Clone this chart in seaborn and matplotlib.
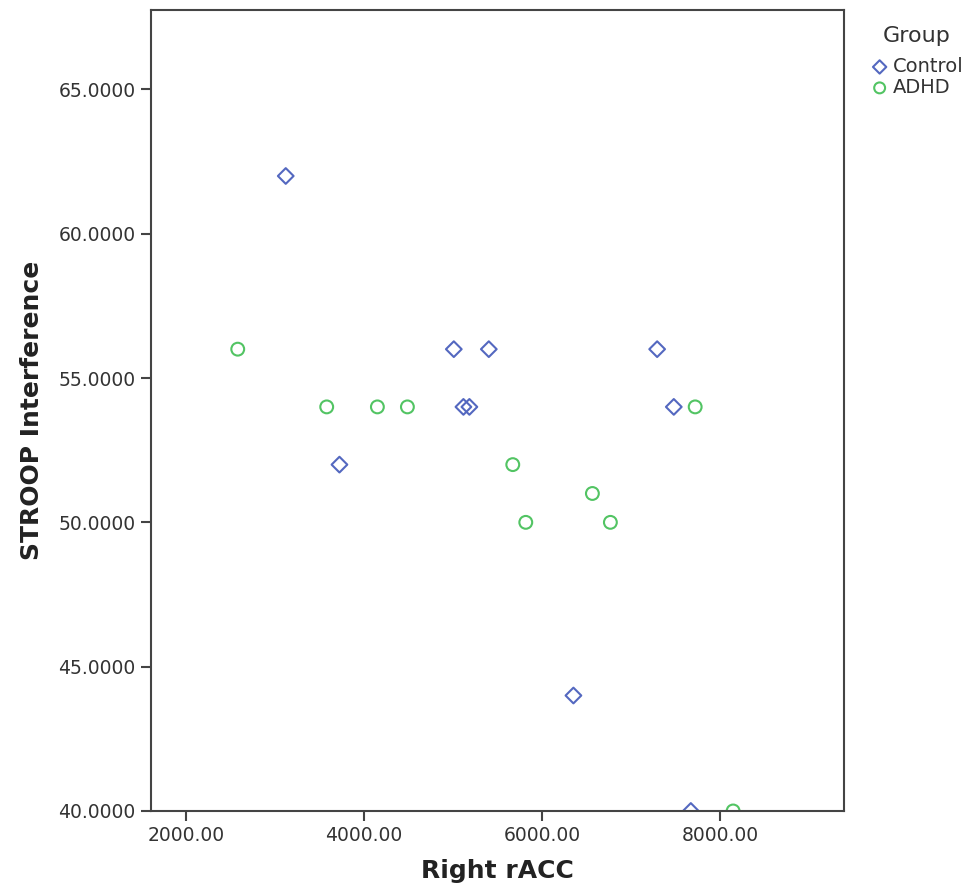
import matplotlib
matplotlib.use("Agg")
import matplotlib.pyplot as plt
import seaborn as sns
import pandas as pd
from matplotlib.ticker import FormatStrFormatter, FixedLocator

control_x = [3123, 3726, 5010, 5118, 5185, 5403, 6353, 7293, 7480, 7671]
control_y = [62, 52, 56, 54, 54, 56, 44, 56, 54, 40]
adhd_x = [2584, 3583, 4152, 4489, 5672, 5818, 6566, 6768, 7720, 8146]
adhd_y = [56, 54, 54, 54, 52, 50, 51, 50, 54, 40]

groups = ["Control", "ADHD"]
colors = {"Control": "#5468c0", "ADHD": "#52c463"}
markers = {"Control": "D", "ADHD": "o"}
sizes = {"Control": 64, "ADHD": 85}

x_ticks = [2000, 4000, 6000, 8000]
y_ticks = [40, 45, 50, 55, 60, 65]

df = pd.DataFrame({
    "Right rACC": control_x + adhd_x,
    "STROOP Interference": control_y + adhd_y,
    "Group": ["Control"] * len(control_x) + ["ADHD"] * len(adhd_x),
})

sns.set_style("white")
plt.rcParams["font.family"] = ["DejaVu Sans"]

fig = plt.figure(figsize=(9.68, 8.96), dpi=100)
ax = fig.add_axes([0.1557, 0.0949, 0.872 - 0.1557, 0.9888 - 0.0949])

for g in groups:
    sub = df[df["Group"] == g]
    sns.scatterplot(data=sub, x="Right rACC", y="STROOP Interference", ax=ax,
                    marker=markers[g], s=sizes[g], facecolor="none",
                    edgecolor=colors[g], linewidth=1.5, label=g, clip_on=True)

ax.set_xlim(1607, 9392)
ax.set_ylim(40, 67.75)
ax.xaxis.set_major_locator(FixedLocator(x_ticks))
ax.yaxis.set_major_locator(FixedLocator(y_ticks))
ax.xaxis.set_major_formatter(FormatStrFormatter("%.2f"))
ax.yaxis.set_major_formatter(FormatStrFormatter("%.4f"))

for sp in ax.spines.values():
    sp.set_color("#444444")
    sp.set_linewidth(1.5)
ax.tick_params(axis="both", which="major", direction="out", length=7, width=1.5,
               color="#444444", labelsize=13.5, labelcolor="#333333",
               bottom=True, left=True, top=False, right=False, pad=4)

ax.set_xlabel("Right rACC", fontsize=18, fontweight="bold", color="#222222", labelpad=10)
ax.set_ylabel("STROOP Interference", fontsize=18, fontweight="bold", color="#222222", labelpad=10)

leg = ax.legend(title="Group", loc="upper left", bbox_to_anchor=(1.012, 1.002),
                frameon=False, fontsize=14, title_fontsize=16,
                handletextpad=0.2, labelspacing=0.1, borderaxespad=0.5,
                handlelength=1.0, markerscale=0.85)
leg._legend_box.sep = 8
for t in leg.get_texts():
    t.set_color("#333333")
leg.get_title().set_color("#333333")

fig.savefig("out.png", dpi=100)
